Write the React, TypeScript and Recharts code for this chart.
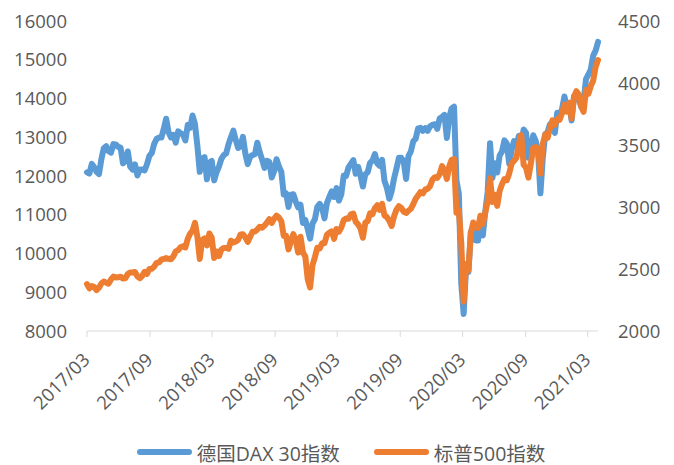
import { LineChart, Line, XAxis, YAxis, Legend } from 'recharts'

// weekly closes (Friday), first week 2017/03/17, last week 2021/04/16
const firstWeek = '2017-03-17'

const daxValues = [
  // 2017
  12095, 12064, 12313, 12225, 12109, 12049, 12438, 12717, 12770, 12638, 12602, 12823, 12816, 12753,
  12733, 12325, 12389, 12632, 12240, 12163, 12298, 12014, 12166, 12168, 12143, 12304, 12519, 12592,
  12829, 12956, 12992, 12991, 13217, 13479, 13127, 12994, 13060, 12861, 13153, 13104, 13072, 12918,
  // 2018
  13320, 13245, 13560, 13340, 12785, 12107, 12452, 12484, 11914, 12346, 12390, 11887, 12097,
  12241, 12442, 12540, 12580, 12820, 13001, 13170, 12938, 12724, 12767, 13011, 12580, 12306,
  12497, 12541, 12562, 12860, 12616, 12424, 12211, 12394, 12364, 11960, 12124, 12431, 12247,
  12111, 11524, 11554, 11201, 11519, 11529, 11341, 11193, 11257, 10788, 10866, 10634, 10382,
  // 2019
  10768, 10887, 11205, 11282, 11181, 10907, 11300, 11457, 11602, 11458, 11686, 11364, 11526,
  12010, 11999, 12222, 12315, 12412, 12060, 12238, 12011, 11727, 12045, 12096, 12340, 12399,
  12568, 12323, 12260, 12419, 11872, 11694, 11412, 11612, 11939, 12192, 12469, 12468, 12381,
  11925, 12512, 12634, 12895, 12961, 13229, 13242, 13164, 13236, 13167, 13283, 13319, 13337,
  // 2020
  13219, 13483, 13526, 13577, 12982, 13514, 13745, 13789, 11890, 11542, 9232, 8441, 9633,
  9525, 10565, 10626, 10336, 10336, 10904, 10465, 11074, 11587, 12848, 11949, 12331, 12089,
  12528, 12633, 12919, 12838, 12313, 12674, 12901, 12765, 13033, 12842, 13202, 13116, 12469,
  12689, 13051, 12909, 12646, 11556, 12480, 13077, 13137, 13335, 13298, 13114, 13631, 13587,
  // 2021
  13719, 14050, 13788, 13873, 13433, 14057, 14050, 13993, 13786, 13921, 14502, 14621, 14749,
  15107, 15234, 15460,
]

const spxValues = [
  // 2017
  2378, 2344, 2363, 2355, 2329, 2349, 2384, 2399, 2390, 2382, 2416, 2439, 2432, 2433,
  2438, 2423, 2425, 2459, 2472, 2472, 2476, 2441, 2426, 2443, 2477, 2461, 2500, 2502,
  2519, 2549, 2553, 2575, 2581, 2588, 2582, 2579, 2602, 2642, 2652, 2675, 2683, 2674,
  // 2018
  2743, 2786, 2810, 2872, 2762, 2581, 2732, 2747, 2691, 2786, 2752, 2588, 2641,
  2604, 2656, 2670, 2670, 2663, 2728, 2713, 2721, 2735, 2779, 2780, 2755, 2718,
  2760, 2801, 2802, 2819, 2840, 2833, 2850, 2875, 2902, 2872, 2905, 2930, 2914,
  2886, 2767, 2768, 2658, 2723, 2781, 2736, 2633, 2760, 2633, 2600, 2417, 2351,
  // 2019
  2532, 2596, 2671, 2665, 2707, 2708, 2776, 2793, 2804, 2743, 2822, 2801, 2834,
  2893, 2907, 2905, 2940, 2946, 2881, 2860, 2826, 2752, 2873, 2887, 2950, 2942,
  2990, 3014, 2977, 3026, 2932, 2919, 2889, 2847, 2926, 2979, 3007, 2992, 2962,
  2952, 2970, 2986, 3023, 3067, 3093, 3120, 3110, 3141, 3146, 3169, 3221, 3240,
  // 2020
  3235, 3265, 3330, 3295, 3226, 3328, 3380, 3386, 2954, 2972, 2711, 2237, 2541,
  2489, 2790, 2875, 2837, 2831, 2930, 2864, 2955, 3044, 3232, 3041, 3098, 3009,
  3130, 3185, 3225, 3216, 3271, 3351, 3373, 3397, 3508, 3580, 3341, 3319, 3237,
  3348, 3477, 3484, 3465, 3270, 3510, 3585, 3558, 3638, 3699, 3663, 3709, 3703,
  // 2021
  3756, 3825, 3768, 3841, 3714, 3887, 3934, 3907, 3811, 3768, 3943, 3913, 3975,
  4020, 4129, 4185,
]

const xTickLabels = ['2017/03', '2017/09', '2018/03', '2018/09', '2019/03', '2019/09', '2020/03', '2020/09', '2021/03']
const leftTicks = [8000, 9000, 10000, 11000, 12000, 13000, 14000, 15000, 16000]
const rightTicks = [2000, 2500, 3000, 3500, 4000, 4500]

const seriesNames = { dax: '德国DAX 30指数', spx: '标普500指数' }
const colors = { dax: '#5B9BD5', spx: '#ED7D31' }

const DAY = 86400000
const t0 = Date.parse(firstWeek + 'T00:00:00Z')
const data = daxValues.map((v, i) => ({ t: t0 + i * 7 * DAY, dax: v, spx: spxValues[i] }))

// ticks every 6 months from the first date
const xTicks = xTickLabels.map((s) => {
  const [y, m] = s.split('/').map(Number)
  return Date.UTC(y, m - 1, 17)
})

const fmtDate = (t: number) => {
  const d = new Date(t)
  return `${d.getUTCFullYear()}/${String(d.getUTCMonth() + 1).padStart(2, '0')}`
}

const textColor = '#595959'
const fontSize = 18.5

const DateTick = ({ x, y, payload }: any) => (
  <text
    transform={`translate(${x + 4},${y + 22}) rotate(-45)`}
    textAnchor="end"
    fill={textColor}
    fontSize={fontSize}
  >
    {fmtDate(payload.value)}
  </text>
)

const LegendBox = () => (
  <div style={{ height: 26, display: 'flex', justifyContent: 'center', alignItems: 'center', gap: 34, fontSize: 19.5, color: textColor }}>
    {(['dax', 'spx'] as const).map((k) => (
      <div key={k} style={{ display: 'flex', alignItems: 'center' }}>
        <span style={{ display: 'inline-block', width: 55, height: 6, borderRadius: 3, background: colors[k], marginRight: 5 }} />
        <span>{seriesNames[k]}</span>
      </div>
    ))}
  </div>
)

export default function App() {
  return (
    <div style={{ fontFamily: '"Open Sans", "Noto Sans CJK SC", sans-serif' }}>
      <LineChart width={666} height={457} data={data} margin={{ top: 13, right: 0, left: 0, bottom: 0 }}>
        <XAxis
          dataKey="t"
          type="number"
          domain={['dataMin', 'dataMax']}
          ticks={xTicks}
          interval={0}
          height={108}
          stroke="#d9d9d9"
          tickSize={6}
          tick={<DateTick />}
        />
        <YAxis
          yAxisId="left"
          domain={[8000, 16000]}
          ticks={leftTicks}
          width={79}
          axisLine={false}
          tickLine={false}
          tickMargin={14}
          tick={{ fill: textColor, fontSize }}
        />
        <YAxis
          yAxisId="right"
          orientation="right"
          domain={[2000, 4500]}
          ticks={rightTicks}
          width={76}
          axisLine={false}
          tickLine={false}
          tickMargin={14}
          tick={{ fill: textColor, fontSize }}
        />
        <Legend verticalAlign="bottom" content={<LegendBox />} />
        <Line
          yAxisId="left"
          dataKey="dax"
          name={seriesNames.dax}
          stroke={colors.dax}
          strokeWidth={6}
          strokeLinejoin="round"
          strokeLinecap="round"
          dot={false}
          isAnimationActive={false}
        />
        <Line
          yAxisId="right"
          dataKey="spx"
          name={seriesNames.spx}
          stroke={colors.spx}
          strokeWidth={6}
          strokeLinejoin="round"
          strokeLinecap="round"
          dot={false}
          isAnimationActive={false}
        />
      </LineChart>
    </div>
  )
}
